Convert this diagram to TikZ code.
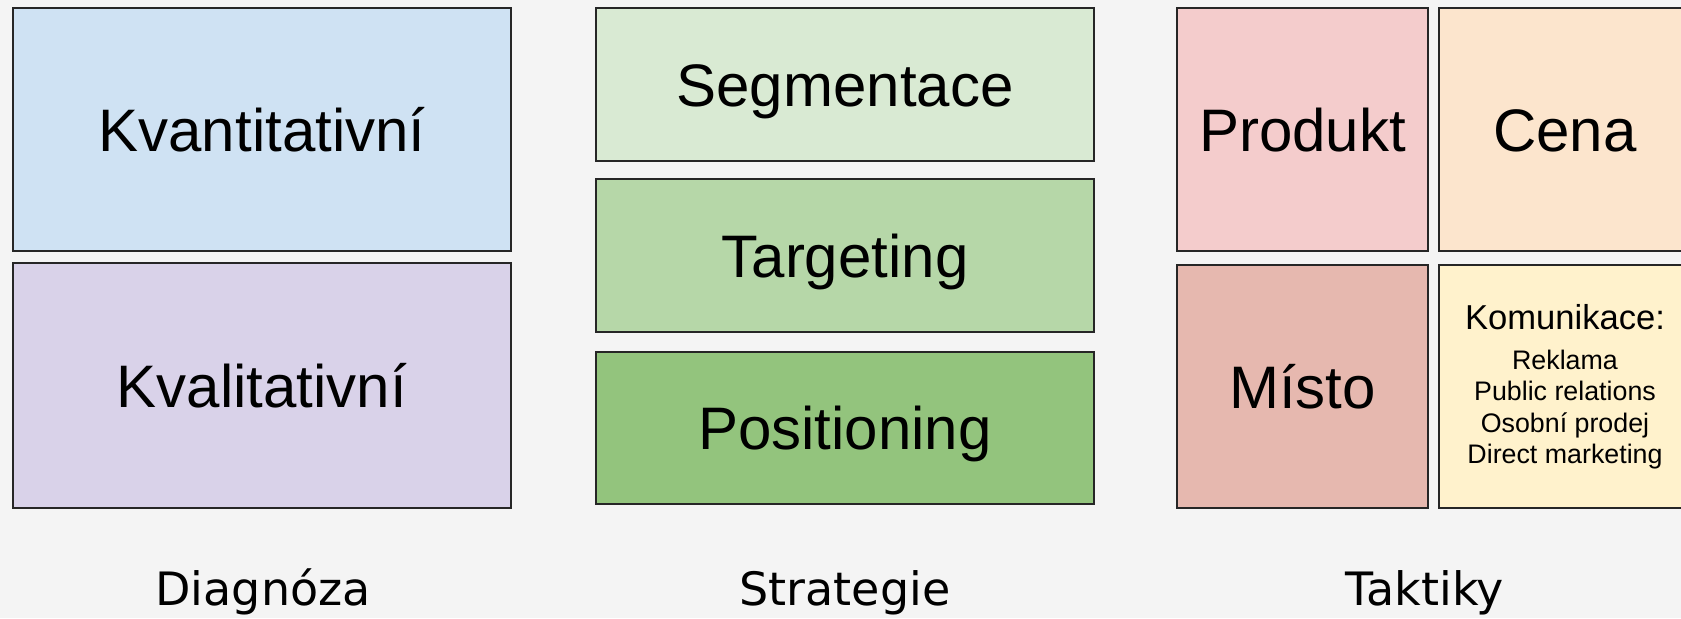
\documentclass[tikz,border=0pt]{standalone}
\usepackage{fontspec}
\setmainfont{Liberation Sans}
\newfontfamily\dejavu{DejaVu Sans}
\usepackage{xcolor}
\usepackage{tikz}

\definecolor{bgGray}{HTML}{F4F4F4}
\definecolor{kvantBlue}{HTML}{CFE2F3}
\definecolor{kvalPurple}{HTML}{D9D2E9}
\definecolor{segGreen}{HTML}{D9EAD3}
\definecolor{targGreen}{HTML}{B6D7A8}
\definecolor{posGreen}{HTML}{93C47D}
\definecolor{prodRed}{HTML}{F4CCCC}
\definecolor{cenaOrange}{HTML}{FCE5CD}
\definecolor{mistoRed}{HTML}{E6B8AF}
\definecolor{komuYellow}{HTML}{FFF2CC}

\tikzset{
  cell/.style={draw=black!85, line width=0.8pt, rectangle, inner sep=0pt, outer sep=0pt,
    font=\fontsize{30}{36}\selectfont, text height=21.5pt, text depth=0pt},
  colname/.style={font=\dejavu\fontsize{23}{28}\selectfont, anchor=base, inner sep=0pt}
}

\begin{document}
\begin{tikzpicture}[x=0.5pt, y=-0.5pt]
         \useasboundingbox[fill=bgGray] (0,0) rectangle (1681,618);
         % Diagnoza
         \node[cell, fill=kvantBlue, minimum width=249pt, minimum height=121.5pt] (kvant) at (262,129.5) {Kvantitativní};
         \node[cell, fill=kvalPurple, minimum width=249pt, minimum height=122.5pt] (kval) at (262,385.5) {Kvalitativní};
         % Strategie
         \node[cell, fill=segGreen, minimum width=249pt, minimum height=76.5pt] (seg) at (845,84.5) {Segmentace};
         \node[cell, fill=targGreen, minimum width=249pt, minimum height=76.5pt] (targ) at (845,255.5) {Targeting};
         \node[cell, fill=posGreen, minimum width=249pt, minimum height=76pt] (pos) at (845,428) {Positioning};
         % Taktiky
         \node[cell, fill=prodRed, minimum width=125.5pt, minimum height=121.5pt] (prod) at (1302.5,129.5) {Produkt};
         \node[cell, fill=cenaOrange, minimum width=126pt, minimum height=121.5pt] (cena) at (1565,129.5) {Cena};
         \node[cell, fill=mistoRed, minimum width=125.5pt, minimum height=121.5pt] (misto) at (1302.5,386.5) {Místo};
         \node[cell, fill=komuYellow, minimum width=126pt, minimum height=121.5pt, align=center,
               text height=, text depth=, font=\fontsize{13.4}{15.75}\selectfont] (komu) at (1565,386.5)
               {{\fontsize{17.3}{15.75}\selectfont Komunikace:}\\[4.25pt] Reklama\\ Public relations\\ Osobní prodej\\ Direct marketing};
         % popisky
         \node[colname] (diag) at (263,605) {Diagnóza};
         \node[colname] (strat) at (845,605) {Strategie};
         \node[colname] (takt) at (1425,605) {Taktiky};
        \end{tikzpicture}
\end{document}
